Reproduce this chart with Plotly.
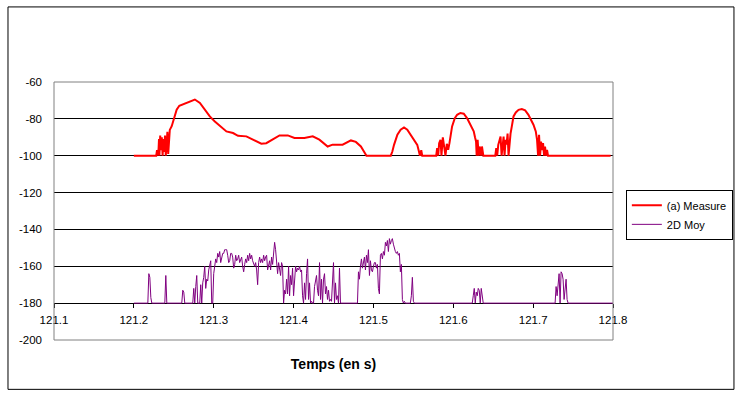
import plotly.graph_objects as go

# ---------------- data ----------------
# (a) Measure : time (s) and level (dB)
measure_t = [
    121.200, 121.228, 121.229, 121.230, 121.231, 121.2315, 121.232, 121.233, 121.234, 121.235,
    121.236, 121.237, 121.238, 121.239, 121.240, 121.241, 121.242, 121.243, 121.244, 121.245,
    121.2474, 121.2494, 121.2515, 121.2536, 121.2569, 121.2619, 121.2681, 121.2764, 121.2827, 121.2889,
    121.2951, 121.3014, 121.3076, 121.3159, 121.3242, 121.3304, 121.3409, 121.3491, 121.3596, 121.3658,
    121.3741, 121.3824, 121.3928, 121.4011, 121.4136, 121.4240, 121.4323, 121.4427, 121.4489, 121.4614,
    121.4718, 121.4780, 121.4843, 121.4905, 121.4913, 121.5217, 121.5237, 121.5258, 121.5300, 121.5341,
    121.5383, 121.5424, 121.5466, 121.5507, 121.5549, 121.5570, 121.5582, 121.5599, 121.5611, 121.5786,
    121.5798, 121.5811, 121.5823, 121.5840, 121.5852, 121.5869, 121.5886, 121.5902, 121.5919, 121.5936,
    121.5952, 121.5969, 121.5985, 121.6019, 121.6048, 121.6089, 121.6131, 121.6172, 121.6214, 121.6256,
    121.6272, 121.6285, 121.6293, 121.6305, 121.6318, 121.6330, 121.6347, 121.6359, 121.6376, 121.6526,
    121.6538, 121.6550, 121.6563, 121.6580, 121.6592, 121.6605, 121.6617, 121.6630, 121.6642, 121.6655,
    121.6667, 121.6680, 121.6692, 121.6705, 121.6717, 121.6733, 121.6754, 121.6783, 121.6817, 121.6858,
    121.6900, 121.6941, 121.6975, 121.7004, 121.7033, 121.7049, 121.7062, 121.7074, 121.7087, 121.7099,
    121.7112, 121.7124, 121.7137, 121.7149, 121.7161, 121.7174, 121.7186, 121.7970,
]
measure_v = [
    -100, -100, -97, -100, -96, -91, -100, -89, -97, -90,
    -100, -91, -98, -89, -100, -92, -87, -99, -89, -86,
    -84, -81.4, -77.8, -75, -72.9, -72, -70.9, -69.5, -71.4, -75,
    -78.7, -81.4, -83.8, -86.8, -87.7, -89.2, -89.5, -91.3, -93.5, -93.2,
    -91.3, -89, -89, -90.4, -90.4, -89.5, -91.3, -95, -94, -94,
    -91.7, -92.5, -95, -100, -100, -100, -97.7, -94.1, -88.6, -85.9,
    -84.7, -85.9, -88.6, -91.4, -94.1, -97.7, -100, -97, -100, -100,
    -95.9, -100, -93.2, -91.4, -100, -90, -95, -100, -93.5, -96.8,
    -93.2, -88, -84.1, -79.6, -77.8, -76.8, -77.2, -79.6, -83.2, -86.8,
    -90, -92.3, -100, -91.4, -100, -95, -100, -95, -100, -100,
    -95.9, -100, -94.1, -91.4, -89.6, -100, -93.2, -89.6, -100, -91.4,
    -94, -88, -100, -91.4, -88, -84.1, -78.7, -76.5, -75.1, -74.7,
    -75.4, -77.8, -80.5, -83.2, -86.8, -91.4, -100, -88.6, -100, -92.3,
    -97, -93.2, -100, -95, -100, -96.8, -100, -100,
]

# 2D Moy : sampled bursts (start time of each burst, sample period, levels)
moy_range = [121.2, 121.8]
moy_baseline = -180
moy_sample_period = 0.00125
moy_burst_start = [121.2175, 121.23875, 121.26, 121.27375, 121.48, 121.54625, 121.62375, 121.7275]
moy_burst_values = [
    [-180, -164, -166, -177, -180],
    [-180, -165, -180],
    [-180, -173, -174, -180],
    [-180,
     -172, -180, -171, -165, -180, -180, -180, -170, -180, -169,
     -166, -160, -172, -167, -168, -162, -160, -157, -180, -180,
     -164, -160, -156, -158, -153, -155, -152, -158, -154, -153,
     -153, -151, -151, -151, -154, -158, -157, -153, -153, -155,
     -161, -159, -154, -157, -156, -154, -158, -156, -155, -160,
     -163, -159, -156, -158, -154, -157, -153, -156, -154, -157,
     -159, -160, -158, -162, -170, -158, -155, -158, -156, -158,
     -154, -157, -155, -154, -162, -160, -157, -162, -155, -159,
     -154, -147, -151, -160, -164, -158, -161, -165, -158, -160,
     -180, -173, -175, -167, -175, -160, -176, -165, -170, -161,
     -176, -167, -160, -163, -161, -162, -160, -163, -162, -176,
     -180, -169, -178, -164, -156, -178, -169, -180, -179, -180,
     -180, -171, -167, -165, -173, -176, -158, -178, -167, -180,
     -167, -164, -175, -171, -178, -173, -179, -178, -179, -167,
     -158, -180, -169, -178, -176, -180, -161, -180],
    [-180, -163, -167, -160, -156, -161, -158, -155, -162, -154,
     -158, -151, -165, -157, -162, -163, -160, -158, -158, -161,
     -159, -172, -175, -154, -153, -156, -152, -154, -147, -149,
     -146, -152, -145, -148, -146, -145, -148, -151, -152, -153,
     -152, -154, -153, -163, -159, -178, -180, -179, -180],
    [-180, -176, -166, -179, -180],
    [-180, -176, -172, -180, -174, -176, -172, -173, -180, -172, -177, -180],
    [-180, -171, -176, -169, -164, -180, -163, -164, -167, -178, -171, -167, -178, -180],
]

x_ticks = [121.1, 121.2, 121.3, 121.4, 121.5, 121.6, 121.7, 121.8]
y_ticks = [-200, -180, -160, -140, -120, -100, -80, -60]

# build the 2D Moy series from the sampled bursts
moy_t, moy_v = [moy_range[0]], [moy_baseline]
for start, vals in zip(moy_burst_start, moy_burst_values):
    for i, v in enumerate(vals):
        moy_t.append(start + i * moy_sample_period)
        moy_v.append(v)
moy_t.append(moy_range[1])
moy_v.append(moy_baseline)

FONT = "Arial, Liberation Sans, sans-serif"

fig = go.Figure()
fig.add_trace(go.Scatter(x=measure_t, y=measure_v, mode="lines", name="(a) Measure",
                         line=dict(color="#FF0000", width=2)))
fig.add_trace(go.Scatter(x=moy_t, y=moy_v, mode="lines", name="2D Moy",
                         line=dict(color="#800080", width=1)))

fig.update_layout(
    width=745, height=397,
    margin=dict(l=53.5, r=130, t=82.3, b=57, pad=0),
    paper_bgcolor="white", plot_bgcolor="white",
    font=dict(family=FONT, size=11, color="black"),
    showlegend=True,
    legend=dict(x=1.023, y=0.582, xanchor="left", yanchor="top",
                bordercolor="black", borderwidth=1, bgcolor="white",
                font=dict(family=FONT, size=11), itemwidth=30, tracegroupgap=0),
    xaxis=dict(range=[121.1, 121.8], tickvals=x_ticks, ticktext=[f"{v:.1f}" for v in x_ticks],
               anchor="free", position=(-180 + 200) / 140,
               showline=True, linecolor="black", linewidth=1,
               ticks="outside", ticklen=4, tickcolor="black", tickwidth=1,
               ticklabelstandoff=2,
               showgrid=False, zeroline=False, layer="below traces",
               tickfont=dict(size=11.5),
               title=dict(text="<b>Temps (en s)</b>", font=dict(size=14), standoff=34)),
    yaxis=dict(range=[-200, -60], tickvals=y_ticks, ticktext=[str(v) for v in y_ticks],
               showgrid=True, gridcolor="black", gridwidth=1,
               showline=False, zeroline=False, ticks="", ticklabelstandoff=11,
               tickfont=dict(size=11.5)),
    shapes=[
        dict(type="rect", xref="paper", yref="paper", x0=0, x1=1, y0=0, y1=1,
             line=dict(color="#808080", width=1), layer="above"),
        dict(type="rect", xref="paper", yref="paper",
             x0=-0.0823, x1=1.2164, y0=-0.1913, y1=1.291,
             line=dict(color="black", width=1), layer="above"),
    ],
)

fig.write_html("out.html", config={"displayModeBar": False},
               post_script="document.body.style.margin='0';")
